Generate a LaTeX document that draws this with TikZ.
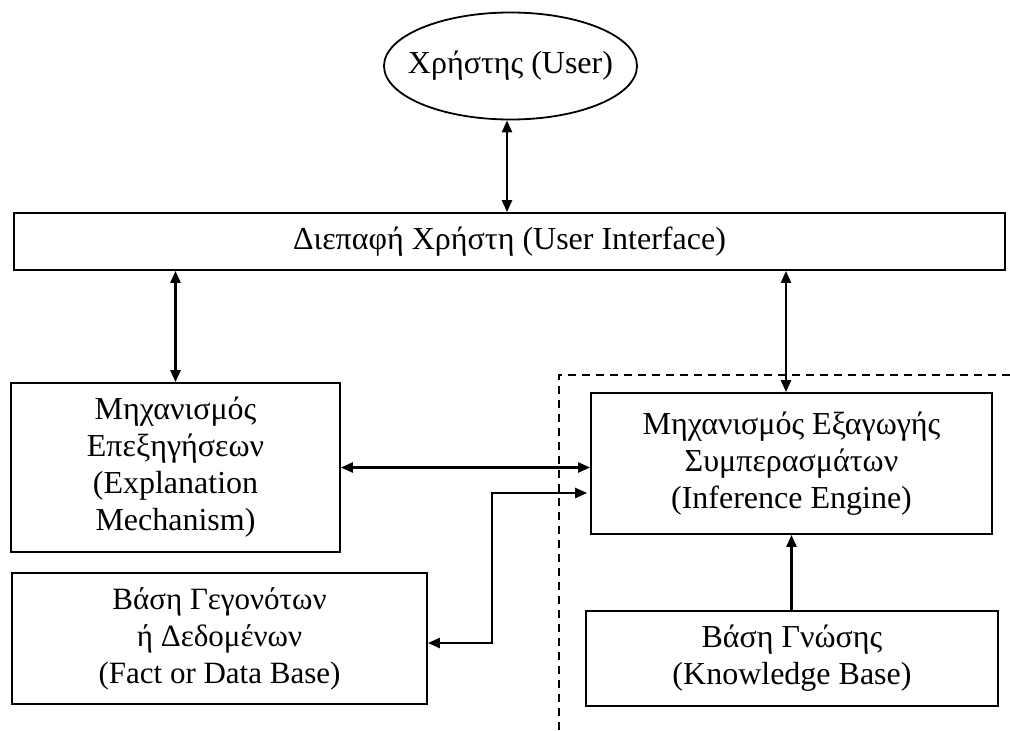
\documentclass[tikz,border=0pt]{standalone}
\usepackage{fontspec}
\setmainfont{Liberation Serif}
\usetikzlibrary{arrows.meta,shapes.geometric}

\tikzset{
  box/.style={draw, line width=1.8pt, inner sep=0pt, align=center},
  conn/.style={line width=2.5pt, {Triangle[length=12pt,width=10pt]}-{Triangle[length=12pt,width=10pt]}},
  oneway/.style={line width=2.5pt, -{Triangle[length=12pt,width=10pt]}},
  boundary/.style={line width=1.6pt, dash pattern=on 8pt off 6pt},
  txt/.style={font=\fontsize{#1}{37}\selectfont}
}

\begin{document}
\begin{tikzpicture}[x=1pt,y=-1pt]
  \useasboundingbox (0,0) rectangle (1010,731);

  % components (the ellipse keeps its own size; its label is zero-width)
  \node[box, ellipse, minimum width=253pt, minimum height=107pt, txt=32]
    (user) at (510.5,66) {\makebox[0pt]{Χρήστης (User)}};
  \node[box, minimum width=991pt, minimum height=57pt, txt=32]
    (ui) at (509.5,241.5) {Διεπαφή Χρήστη (User Interface)};
  \node[box, minimum width=329pt, minimum height=169pt, txt=32]
    (expl) at (175.5,467.5) {Μηχανισμός\\Επεξηγήσεων\\(Explanation\\Mechanism)};
  \node[box, minimum width=401pt, minimum height=141pt, txt=32]
    (inf) at (791.5,463.5) {Μηχανισμός Εξαγωγής\\Συμπερασμάτων\\(Inference Engine)};
  \node[box, minimum width=415pt, minimum height=131pt, txt=31]
    (fact) at (219.5,638.5) {Βάση Γεγονότων\\ή Δεδομένων\\(Fact or Data Base)};
  \node[box, minimum width=412pt, minimum height=95pt, txt=32]
    (kb) at (792,658.5) {Βάση Γνώσης\\(Knowledge Base)};

  % boundary of the reasoning part
  \coordinate (bR) at (1010,375);
  \coordinate (bC) at (559,375);
  \coordinate (bB) at (559,731);
  \draw[boundary] (bR) -- (bC) -- (bB);

  % connectors
  \draw[conn] ([xshift=-3.5pt]user.south) -- ([xshift=-3.5pt]user.south |- ui.north);
  \draw[conn] (ui.south -| expl.north) -- (expl.north);
  \draw[conn] ([xshift=-5.5pt]inf.north |- ui.south) -- ([xshift=-5.5pt]inf.north);
  \draw[conn] (expl.east) -- (expl.east -| inf.west);
  \draw[oneway] (kb.north -| inf.south) -- (inf.south);
  \coordinate (fTop) at (492,493);
  \coordinate (fLow) at (492,643);
  \draw[conn] ([xshift=-3pt]inf.west |- fTop) -- (fTop) -- (fLow) -- (fLow -| fact.east);
\end{tikzpicture}
\end{document}
